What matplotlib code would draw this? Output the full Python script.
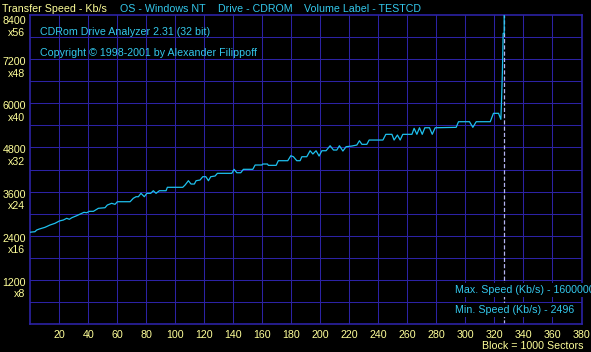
import matplotlib.pyplot as plt

plt.rcParams['font.family'] = ['Liberation Sans', 'DejaVu Sans']
plt.rcParams['lines.scale_dashes'] = False

# block number (x 1000 sectors) and transfer speed in Kb/s
blocks = [0, 3.2, 4.4, 6.2, 10.1, 13.6, 17.0, 20.0, 22.8, 25.1,
          26.9, 28.6, 32.0, 35.5, 37.0, 38.9, 40.7, 43.5, 45.8, 46.9,
          51.5, 53.1, 56.1, 58.4, 60.0, 68.8, 71.0, 72.9, 74.5, 76.3,
          78.6, 80.3, 83.0, 84.8, 86.7, 89.0, 93.6, 94.5, 105.1, 106.7,
          109.0, 110.8, 113.1, 114.3, 117.0, 118.9, 121.0, 122.8, 124.4, 127.4,
          129.0, 138.9, 140.5, 142.4, 145.1, 146.9, 153.4, 155.0, 159.6, 160.3,
          163.5, 164.1, 169.5, 171.0, 177.5, 179.6, 181.4, 183.7, 186.0, 187.2,
          190.6, 192.9, 194.8, 197.0, 199.1, 201.0, 203.9, 206.7, 209.0, 211.3,
          213.1, 215.5, 217.7, 221.7, 225.1, 226.9, 228.6, 232.0, 233.6, 243.1,
          245.1, 249.3, 250.8, 253.1, 255.0, 256.8, 263.1, 264.6, 266.5, 268.3,
          270.2, 272.0, 275.2, 277.1, 279.1, 293.6, 295.2, 302.8, 305.1, 307.4,
          317.1, 319.3, 322.8, 324.4, 324.8, 325.5, 326.0, 326.7, 326.9]
speeds = [2496, 2509, 2555, 2582, 2628, 2691, 2737, 2800, 2827, 2873,
          2846, 2889, 2944, 3009, 3036, 3025, 3063, 3063, 3118, 3145,
          3161, 3234, 3281, 3253, 3324, 3324, 3417, 3460, 3460, 3552,
          3460, 3552, 3552, 3623, 3552, 3623, 3623, 3716, 3716, 3778,
          3895, 3805, 3805, 3895, 3914, 4004, 4004, 3895, 4004, 4023,
          4096, 4096, 4205, 4112, 4112, 4205, 4205, 4322, 4322, 4349,
          4349, 4313, 4313, 4439, 4439, 4574, 4547, 4439, 4439, 4547,
          4547, 4710, 4621, 4710, 4566, 4710, 4710, 4846, 4729, 4729,
          4846, 4702, 4819, 4838, 4865, 4982, 4884, 4884, 5001, 5001,
          5156, 5156, 5001, 5137, 5001, 5156, 5156, 5319, 5156, 5335,
          5156, 5335, 5335, 5156, 5335, 5346, 5499, 5499, 5346, 5499,
          5499, 5727, 5727, 5564, 5980, 6904, 7901, 7901, 1600000]
end_block = 326.9

x_ticks = list(range(20, 400, 20))
y_ticks = list(range(1200, 9600, 1200))
y_factor = [v // 150 for v in y_ticks]

header = [("Transfer Speed - Kb/s", 2, '#ffff99'),
          ("OS - Windows NT", 120.5, '#33c8ec'),
          ("Drive - CDROM", 218, '#33c8ec'),
          ("Volume Label - TESTCD", 304.5, '#33c8ec')]

grid_col = '#2c22a4'
cyan = '#33c8ec'
yellow = '#ffff99'
fs = 7.7

W, H = 591, 352
fig = plt.figure(figsize=(W / 100, H / 100), dpi=100, facecolor='black')
ax = fig.add_axes([30.3 / W, 1 - 324 / H, 551.2 / W, 309 / H])
ax.set_facecolor('black')
ax.set_xlim(0, 380)
ax.set_ylim(0, 8400)

for x in x_ticks:
    ax.axvline(x, color=grid_col, lw=0.75, zorder=1)
for y in range(600, 8400, 600):
    ax.axhline(y, color=grid_col, lw=0.75, zorder=1)
for s in ax.spines.values():
    s.set_color(grid_col)
    s.set_linewidth(1.2)

ax.set_xticks(x_ticks)
ax.set_xticklabels([str(x) for x in x_ticks])
ax.tick_params(axis='x', length=0, pad=4.5, labelsize=fs, labelcolor=yellow)
ax.set_yticks([])

# speed value on top, drive multiplier underneath; the top one is pushed down
for v, f in zip(y_ticks, y_factor):
    d1, d2 = (-6.5, -15) if v == y_ticks[-1] else (-4.3, -12.7)
    ax.annotate(str(v), xy=(0, v), xycoords=('axes fraction', 'data'),
                xytext=(-3, d1), textcoords='offset points', ha='right',
                va='baseline', fontsize=fs, color=yellow)
    ax.annotate(f"x{f}", xy=(0, v), xycoords=('axes fraction', 'data'),
                xytext=(-3.5, d2), textcoords='offset points', ha='right',
                va='baseline', fontsize=fs, color=yellow)

ax.axvline(end_block, color='#b4b4f0', lw=0.9, ls=(0, (3, 1.5)), zorder=2)
ax.plot(blocks, speeds, color='#1ec0ee', lw=0.9, zorder=3)

for txt, px, col in header:
    fig.text(px / W, 1 - 11.7 / H, txt, color=col, fontsize=fs, va='baseline', ha='left')

fig.text(40.5 / W, 1 - 35.3 / H, "CDRom Drive Analyzer 2.31 (32 bit)", color=cyan,
         fontsize=fs, va='baseline')
fig.text(40.5 / W, 1 - 55.5 / H, "Copyright \u00a9 1998-2001 by Alexander Filippoff",
         color=cyan, fontsize=fs, va='baseline')

box = dict(facecolor='black', edgecolor='none', pad=1.2)
fig.text(455 / W, 1 - 292.8 / H, "Max. Speed (Kb/s) - 1600000", color=cyan,
         fontsize=fs, va='baseline', bbox=box, zorder=5)
fig.text(455 / W, 1 - 312.8 / H, "Min. Speed (Kb/s) - 2496", color=cyan,
         fontsize=fs, va='baseline', bbox=box, zorder=5)
fig.text(584 / W, 1 - 349 / H, "Block = 1000 Sectors", color=yellow,
         fontsize=fs, va='baseline', ha='right')

fig.savefig('out.png', dpi=100, facecolor='black')
